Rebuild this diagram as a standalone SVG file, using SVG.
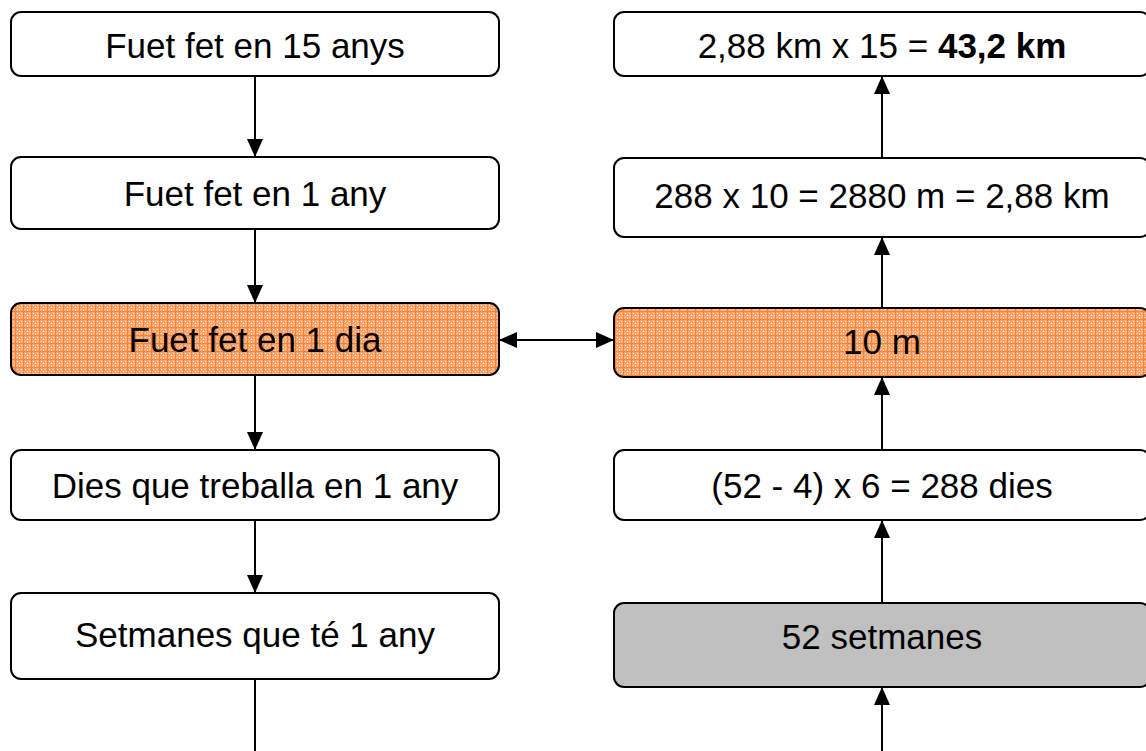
<svg xmlns="http://www.w3.org/2000/svg" width="1146" height="751" viewBox="0 0 1146 751">
<defs>
<style>
.box{fill:#fff;stroke:#000;stroke-width:2}
.org{fill:url(#orangePat);stroke:#000;stroke-width:2}
.grey{fill:#c0c0c0;stroke:#000;stroke-width:2}
.lbl{font-family:"Liberation Sans",Arial,sans-serif;font-size:35px;fill:#000;text-anchor:middle;dominant-baseline:central}
.con{stroke:#000;stroke-width:2;fill:none}
</style>
<pattern id="orangePat" width="8" height="8" patternUnits="userSpaceOnUse">
<rect width="8" height="8" fill="#fba36c"/>
<rect x="1" y="1" width="1" height="1" fill="#ffe8d6"/>
<rect x="3" y="3" width="1" height="1" fill="#ffe8d6"/>
<rect x="5" y="1" width="1" height="1" fill="#ffe8d6"/>
<rect x="1" y="5" width="1" height="1" fill="#ffe8d6"/>
<rect x="5" y="5" width="1" height="1" fill="#ffe8d6"/>
<rect x="3" y="6" width="1" height="1" fill="#ffe8d6"/>
<rect x="6" y="3" width="1" height="1" fill="#ffe8d6"/>
<rect x="7" y="0" width="1" height="8" fill="#ff8230"/>
<rect x="0" y="7" width="8" height="1" fill="#ff8230"/>
</pattern>
<marker id="arr" viewBox="0 0 18 16" markerWidth="18" markerHeight="16" refX="18" refY="8" orient="auto" markerUnits="userSpaceOnUse">
<path d="M0,0 L18,8 L0,16 Z" fill="#000"/>
</marker>
<marker id="arrS" viewBox="0 0 18 16" markerWidth="18" markerHeight="16" refX="0" refY="8" orient="auto" markerUnits="userSpaceOnUse">
<path d="M18,0 L0,8 L18,16 Z" fill="#000"/>
</marker>
</defs>
<rect width="1146" height="751" fill="#fff"/>
<g id="connectors">
<line class="con" x1="255" y1="76" x2="255" y2="157" marker-end="url(#arr)"/>
<line class="con" x1="255" y1="229" x2="255" y2="303" marker-end="url(#arr)"/>
<line class="con" x1="255" y1="375" x2="255" y2="450" marker-end="url(#arr)"/>
<line class="con" x1="255" y1="520" x2="255" y2="593" marker-end="url(#arr)"/>
<line class="con" x1="255" y1="679" x2="255" y2="751"/>
<line class="con" x1="499" y1="340" x2="614" y2="340" marker-start="url(#arrS)" marker-end="url(#arr)"/>
<line class="con" x1="882" y1="751" x2="882" y2="687" marker-end="url(#arr)"/>
<line class="con" x1="882" y1="603" x2="882" y2="520" marker-end="url(#arr)"/>
<line class="con" x1="882" y1="450" x2="882" y2="377" marker-end="url(#arr)"/>
<line class="con" x1="882" y1="308" x2="882" y2="237" marker-end="url(#arr)"/>
<line class="con" x1="882" y1="158" x2="882" y2="76" marker-end="url(#arr)"/>
</g>
<g id="n-l1"><rect class="box" x="11" y="12" width="488" height="64" rx="10"/><text class="lbl" x="255" y="45">Fuet fet en 15 anys</text></g>
<g id="n-l2"><rect class="box" x="11" y="157" width="488" height="72" rx="10"/><text class="lbl" x="255" y="193">Fuet fet en 1 any</text></g>
<g id="n-l3"><rect class="org" x="11" y="303" width="488" height="72" rx="10"/><text class="lbl" x="255" y="339">Fuet fet en 1 dia</text></g>
<g id="n-l4"><rect class="box" x="11" y="450" width="488" height="70" rx="10"/><text class="lbl" x="255" y="485">Dies que treballa en 1 any</text></g>
<g id="n-l5"><rect class="box" x="11" y="593" width="488" height="86" rx="10"/><text class="lbl" x="255" y="634">Setmanes que té 1 any</text></g>
<g id="n-r1"><rect class="box" x="614" y="12" width="536" height="64" rx="10"/><text class="lbl" x="882" y="45">2,88 km x 15 = <tspan font-weight="bold">43,2 km</tspan></text></g>
<g id="n-r2"><rect class="box" x="614" y="158" width="536" height="79" rx="10"/><text class="lbl" x="882" y="195">288 x 10 = 2880 m = 2,88 km</text></g>
<g id="n-r3"><rect class="org" x="614" y="308" width="536" height="69" rx="10"/><text class="lbl" x="882" y="341">10 m</text></g>
<g id="n-r4"><rect class="box" x="614" y="450" width="536" height="70" rx="10"/><text class="lbl" x="882" y="485">(52 - 4) x 6 = 288 dies</text></g>
<g id="n-r5"><rect class="grey" x="614" y="603" width="536" height="84" rx="10"/><text class="lbl" x="882" y="636">52 setmanes</text></g>
</svg>
